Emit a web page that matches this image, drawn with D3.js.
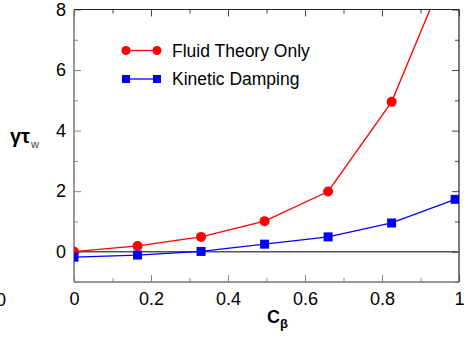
<!DOCTYPE html>
<html>
<head>
<meta charset="utf-8">
<script src="https://cdn.jsdelivr.net/npm/d3@7"></script>
<style>
  body { margin: 0; background: #fff; }
  svg { font-family: "Liberation Sans", Arial, sans-serif; }
</style>
</head>
<body>
<svg id="chart" width="468" height="340"></svg>
<script>
// values
const cBeta = [0, 0.165, 0.33, 0.495, 0.66, 0.825, 0.99]
const fluid = [0, 0.19, 0.49, 1.01, 1.99, 4.95, 10.0]
const kinetic = [-0.18, -0.11, 0.01, 0.25, 0.49, 0.95, 1.73]
const xTicks = [0, 0.2, 0.4, 0.6, 0.8, 1]
const yTicks = [0, 2, 4, 6, 8]
const seriesNames = ["Fluid Theory Only", "Kinetic Damping"]

const margin = {top: 9.5, right: 9, bottom: 58, left: 74},
    width = 468, height = 340

const svg = d3.select("#chart")

const fx = d3.scaleLinear().domain([0, 1]).range([margin.left, width - margin.right])
const fy = d3.scaleLinear().domain([-1, 8]).range([height - margin.bottom, margin.top])

const x0 = fx(0), x1 = fx(1), y0 = fy(-1), y1 = fy(8)

svg.append("defs").append("clipPath").attr("id", "plot")
    .append("rect").attr("x", x0).attr("y", y1).attr("width", x1 - x0).attr("height", y0 - y1)

// minor ticks
const minorX = d3.range(0.1, 1, 0.2)
const minorY = d3.range(-1, 8, 2)
const tickCol = "#888"

// bottom axis
svg.append("g")
    .attr("transform", "translate(0," + y0 + ")")
    .call(d3.axisBottom(fx).tickValues(xTicks).tickFormat(d3.format("")).tickSize(-7).tickPadding(10))
    .call(g => g.select(".domain").remove())
    .call(g => g.selectAll("line").attr("stroke", tickCol))
    .call(g => g.selectAll("text").attr("font-size", 18).attr("fill", "#000").attr("font-family", null))
svg.append("g")
    .attr("transform", "translate(0," + y0 + ")")
    .call(d3.axisBottom(fx).tickValues(minorX).tickFormat("").tickSize(-4))
    .call(g => g.select(".domain").remove())
    .call(g => g.selectAll("line").attr("stroke", tickCol))

// left axis
svg.append("g")
    .attr("transform", "translate(" + x0 + ",0)")
    .call(d3.axisLeft(fy).tickValues(yTicks).tickSize(-7).tickPadding(8))
    .call(g => g.select(".domain").remove())
    .call(g => g.selectAll("line").attr("stroke", tickCol))
    .call(g => g.selectAll("text").attr("font-size", 18).attr("fill", "#000").attr("font-family", null))
svg.append("g")
    .attr("transform", "translate(" + x0 + ",0)")
    .call(d3.axisLeft(fy).tickValues(minorY).tickFormat("").tickSize(-4))
    .call(g => g.select(".domain").remove())
    .call(g => g.selectAll("line").attr("stroke", tickCol))

// top axis ticks
svg.append("g")
    .attr("transform", "translate(0," + y1 + ")")
    .call(d3.axisTop(fx).tickValues(xTicks).tickFormat("").tickSize(-7))
    .call(g => g.select(".domain").remove())
    .call(g => g.selectAll("line").attr("stroke", "#444"))
svg.append("g")
    .attr("transform", "translate(0," + y1 + ")")
    .call(d3.axisTop(fx).tickValues(minorX).tickFormat("").tickSize(-4))
    .call(g => g.select(".domain").remove())
    .call(g => g.selectAll("line").attr("stroke", "#444"))

// right axis ticks
svg.append("g")
    .attr("transform", "translate(" + x1 + ",0)")
    .call(d3.axisRight(fy).tickValues(yTicks).tickFormat("").tickSize(-7))
    .call(g => g.select(".domain").remove())
    .call(g => g.selectAll("line").attr("stroke", "#444"))
svg.append("g")
    .attr("transform", "translate(" + x1 + ",0)")
    .call(d3.axisRight(fy).tickValues(minorY).tickFormat("").tickSize(-4))
    .call(g => g.select(".domain").remove())
    .call(g => g.selectAll("line").attr("stroke", "#444"))

// frame
svg.append("line").attr("x1", x0).attr("x2", x1).attr("y1", y1).attr("y2", y1).attr("stroke", "#222").attr("stroke-width", 1.2)
svg.append("line").attr("x1", x1).attr("x2", x1).attr("y1", y1).attr("y2", y0).attr("stroke", "#222").attr("stroke-width", 1.2)
svg.append("line").attr("x1", x0).attr("x2", x1).attr("y1", y0).attr("y2", y0).attr("stroke", "#777").attr("stroke-width", 1.5)
svg.append("line").attr("x1", x0).attr("x2", x0).attr("y1", y1).attr("y2", y0).attr("stroke", "#777").attr("stroke-width", 1.5)

// zero line
svg.append("line").attr("x1", x0).attr("x2", x1).attr("y1", fy(0)).attr("y2", fy(0))
    .attr("stroke", "#555").attr("stroke-width", 1.5)

const line = d3.line().x((d, i) => fx(cBeta[i])).y(d => fy(d))

const plot = svg.append("g").attr("clip-path", "url(#plot)")

plot.append("path").datum(fluid).attr("d", line)
    .attr("fill", "none").attr("stroke", "#ff0000").attr("stroke-width", 1.3)
plot.selectAll(".dot").data(fluid).join("circle")
    .attr("cx", (d, i) => fx(cBeta[i])).attr("cy", d => fy(d)).attr("r", 5)
    .attr("fill", "#ff0000")

plot.append("path").datum(kinetic).attr("d", line)
    .attr("fill", "none").attr("stroke", "#0000ff").attr("stroke-width", 1.3)
plot.selectAll(".sq").data(kinetic).join("rect")
    .attr("x", (d, i) => fx(cBeta[i]) - 4.5).attr("y", d => fy(d) - 4.5)
    .attr("width", 9).attr("height", 9).attr("fill", "#0000ff")

// legend
const leg = svg.append("g")
const legY = [50.5, 79]
seriesNames.forEach((n, i) => {
    const col = i == 0 ? "#ff0000" : "#0000ff"
    leg.append("line").attr("x1", 126).attr("x2", 157).attr("y1", legY[i]).attr("y2", legY[i])
        .attr("stroke", col).attr("stroke-width", 1.3)
    ;[126, 157].forEach(px => {
        if (i == 0) leg.append("circle").attr("cx", px).attr("cy", legY[i]).attr("r", 4.5).attr("fill", col)
        else leg.append("rect").attr("x", px - 4).attr("y", legY[i] - 4).attr("width", 8).attr("height", 8).attr("fill", col)
    })
    leg.append("text").attr("x", 172).attr("y", legY[i] + 6).attr("font-size", 17.5).text(n)
})

// axis titles
const yl = svg.append("text").attr("x", 10).attr("y", 143).attr("font-size", 20).attr("font-weight", "bold")
yl.append("tspan").text("γτ")
yl.append("tspan").attr("font-size", 11).attr("font-weight", "normal").attr("fill", "#444").attr("dx", 1).attr("dy", 5).text("w")

const xl = svg.append("text").attr("x", 267).attr("y", 323).attr("font-size", 18).attr("font-weight", "bold")
xl.append("tspan").text("C")
xl.append("tspan").attr("font-size", 13).attr("dy", 5).text("β")

// label cut by the left edge in the reference
svg.append("text").attr("x", 6).attr("y", 306).attr("text-anchor", "end").attr("font-size", 18).text("0")
</script>
</body>
</html>
